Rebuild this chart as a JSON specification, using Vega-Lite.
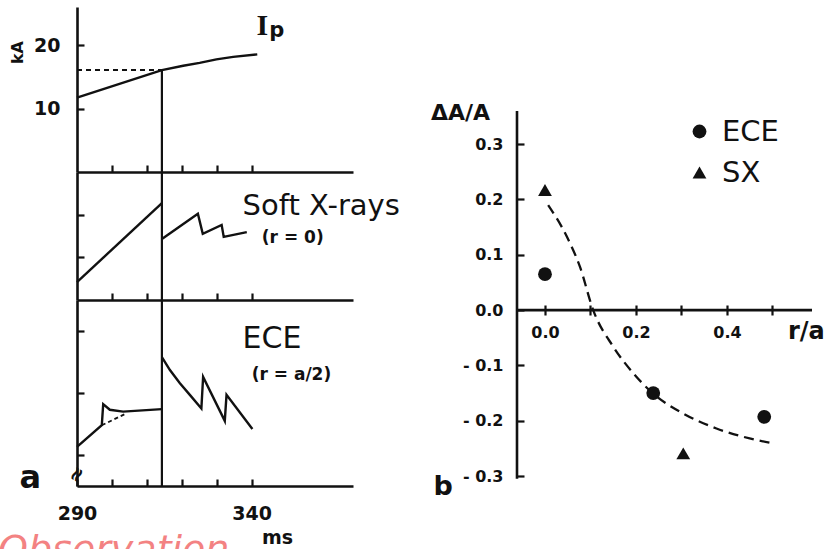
{
  "$schema": "https://vega.github.io/schema/vega-lite/v6.json",
  "autosize": "none",
  "padding": {"left": 77, "top": 7, "right": 750, "bottom": 542},
  "background": "white",
  "config": {
    "view": {"stroke": null},
    "font": "DejaVu Sans",
    "axis": {"grid": false, "domainColor": "#111", "tickColor": "#111", "labelColor": "#111", "titleColor": "#111", "domainWidth": 2.6, "tickWidth": 2.2, "labelFont": "DejaVu Sans", "labelFontWeight": "bold", "titleFont": "DejaVu Sans", "titleFontWeight": "bold"},
    "text": {"color": "#111"}
  },
  "datasets": {
    "ip": [
      {"t": 290, "v": 11.71},
      {"t": 314.3, "v": 16.06},
      {"t": 320.4, "v": 16.74},
      {"t": 325.1, "v": 17.2},
      {"t": 329.9, "v": 17.74},
      {"t": 334.7, "v": 18.14},
      {"t": 341.6, "v": 18.53}
    ],
    "sx": [
      {"seg": "pre", "t": 290, "v": 0.42},
      {"seg": "pre", "t": 314.3, "v": 2.27},
      {"seg": "post", "t": 314.3, "v": 1.43},
      {"seg": "post", "t": 324.6, "v": 2.02},
      {"seg": "post", "t": 326.0, "v": 1.55},
      {"seg": "post", "t": 331.4, "v": 1.76},
      {"seg": "post", "t": 332.0, "v": 1.48},
      {"seg": "post", "t": 338.6, "v": 1.59}
    ],
    "ece": [
      {"seg": "pre", "t": 290, "v": 0.13},
      {"seg": "pre", "t": 297.1, "v": 0.48},
      {"seg": "pre", "t": 297.5, "v": 0.82},
      {"seg": "pre", "t": 299.4, "v": 0.73},
      {"seg": "pre", "t": 303.2, "v": 0.7},
      {"seg": "pre", "t": 314.3, "v": 0.74},
      {"seg": "dash", "t": 297.1, "v": 0.48},
      {"seg": "dash", "t": 303.7, "v": 0.66},
      {"seg": "post", "t": 314.3, "v": 1.58},
      {"seg": "post", "t": 316.6, "v": 1.37},
      {"seg": "post", "t": 319.4, "v": 1.16},
      {"seg": "post", "t": 322.3, "v": 0.97},
      {"seg": "post", "t": 325.6, "v": 0.75},
      {"seg": "post", "t": 326.1, "v": 1.26},
      {"seg": "post", "t": 332.3, "v": 0.55},
      {"seg": "post", "t": 332.8, "v": 0.97},
      {"seg": "post", "t": 340.2, "v": 0.42}
    ],
    "fit": [
      {"r": 0.007, "v": 0.19},
      {"r": 0.048, "v": 0.133},
      {"r": 0.077, "v": 0.078},
      {"r": 0.106, "v": 0.0},
      {"r": 0.15, "v": -0.066},
      {"r": 0.194, "v": -0.114},
      {"r": 0.238, "v": -0.151},
      {"r": 0.304, "v": -0.187},
      {"r": 0.377, "v": -0.214},
      {"r": 0.45, "v": -0.232},
      {"r": 0.502, "v": -0.241}
    ],
    "pts": [
      {"series": "ECE", "r": 0.0, "v": 0.065},
      {"series": "ECE", "r": 0.238, "v": -0.15},
      {"series": "ECE", "r": 0.482, "v": -0.193},
      {"series": "SX", "r": 0.0, "v": 0.217},
      {"series": "SX", "r": 0.304, "v": -0.259}
    ]
  },
  "bounds": "flush",
  "spacing": 440,
  "hconcat": [
    {
      "bounds": "flush",
      "spacing": 0,
      "vconcat": [
        {
          "width": 276,
          "height": 165,
          "layer": [
            {
              "data": {"name": "ip"},
              "mark": {"type": "line", "color": "#111", "strokeWidth": 2.4},
              "encoding": {
                "x": {"field": "t", "type": "quantitative", "scale": {"domain": [290, 369], "nice": false, "zero": false},
                  "axis": {"values": [300, 310, 320, 330, 340], "labels": false, "title": null, "tickSize": -7}},
                "y": {"field": "v", "type": "quantitative", "scale": {"domain": [0, 26], "nice": false, "zero": false},
                  "axis": {"values": [10, 20], "tickSize": -7, "labelPadding": 24, "labelFontSize": 19, "title": "kA", "titleAngle": -90, "titleX": -60, "titleY": 45, "titleFontSize": 16, "titleAlign": "center", "titleBaseline": "middle"}}
              }
            },
            {
              "data": {"values": [{}]},
              "mark": {"type": "rule", "color": "#111", "strokeWidth": 2, "strokeDash": [5, 4]},
              "encoding": {"x": {"datum": 290}, "x2": {"datum": 314.3}, "y": {"datum": 16.06}}
            },
            {
              "data": {"values": [{}]},
              "mark": {"type": "rule", "color": "#111", "strokeWidth": 2.2},
              "encoding": {"x": {"datum": 314.3}, "y": {"datum": 16.06}, "y2": {"datum": 0}}
            },
            {
              "data": {"values": [{}]},
              "mark": {"type": "text", "font": "Liberation Serif", "fontWeight": "bold", "fontSize": 30, "align": "left", "baseline": "alphabetic"},
              "encoding": {"x": {"datum": 341.4}, "y": {"datum": 21.6}, "text": {"value": "I"}}
            },
            {
              "data": {"values": [{}]},
              "mark": {"type": "text", "fontWeight": "bold", "fontSize": 21, "align": "left", "baseline": "alphabetic"},
              "encoding": {"x": {"datum": 345.0}, "y": {"datum": 21.2}, "text": {"value": "p"}}
            }
          ]
        },
        {
          "width": 276,
          "height": 128,
          "layer": [
            {
              "data": {"name": "sx"},
              "mark": {"type": "line", "color": "#111", "strokeWidth": 2.4},
              "encoding": {
                "x": {"field": "t", "type": "quantitative", "scale": {"domain": [290, 369], "nice": false, "zero": false},
                  "axis": {"values": [300, 310, 320, 330, 340], "labels": false, "title": null, "tickSize": -7}},
                "y": {"field": "v", "type": "quantitative", "scale": {"domain": [0, 3], "nice": false, "zero": false},
                  "axis": {"values": [1, 2], "labels": false, "title": null, "tickSize": -7}},
                "detail": {"field": "seg"}
              }
            },
            {
              "data": {"values": [{}]},
              "mark": {"type": "rule", "color": "#111", "strokeWidth": 2.2},
              "encoding": {"x": {"datum": 314.3}, "y": {"datum": 0}, "y2": {"datum": 3}}
            },
            {
              "data": {"values": [{}]},
              "mark": {"type": "text", "fontSize": 29, "align": "left", "baseline": "alphabetic"},
              "encoding": {"x": {"datum": 337.4}, "y": {"datum": 1.99}, "text": {"value": "Soft X-rays"}}
            },
            {
              "data": {"values": [{}]},
              "mark": {"type": "text", "fontSize": 17, "fontWeight": "bold", "align": "left", "baseline": "middle"},
              "encoding": {"x": {"datum": 342.9}, "y": {"datum": 1.45}, "text": {"value": "(r = 0)"}}
            }
          ]
        },
        {
          "width": 276,
          "height": 186,
          "layer": [
            {
              "data": {"name": "ece"},
              "transform": [{"filter": "datum.seg != 'dash'"}],
              "mark": {"type": "line", "color": "#111", "strokeWidth": 2.4},
              "encoding": {
                "x": {"field": "t", "type": "quantitative", "scale": {"domain": [290, 369], "nice": false, "zero": false},
                  "axis": {"values": [290, 300, 310, 320, 330, 340], "labelExpr": "datum.value == 290 || datum.value == 340 ? datum.label : ''", "labelPadding": 25, "labelFontSize": 19, "labelFlush": false, "tickSize": -7, "title": "ms", "titleX": 200, "titleY": 51, "titleFontSize": 19, "titleAlign": "center", "titleBaseline": "middle"}},
                "y": {"field": "v", "type": "quantitative", "scale": {"domain": [-0.5, 2.5], "nice": false, "zero": false},
                  "axis": {"values": [0, 1, 2], "labels": false, "title": null, "tickSize": -7}},
                "detail": {"field": "seg"}
              }
            },
            {
              "data": {"name": "ece"},
              "transform": [{"filter": "datum.seg == 'dash'"}],
              "mark": {"type": "line", "color": "#111", "strokeWidth": 1.8, "strokeDash": [4, 3]},
              "encoding": {
                "x": {"field": "t", "type": "quantitative"},
                "y": {"field": "v", "type": "quantitative"}
              }
            },
            {
              "data": {"values": [{}]},
              "mark": {"type": "rule", "color": "#111", "strokeWidth": 2.2},
              "encoding": {"x": {"datum": 314.3}, "y": {"datum": -0.5}, "y2": {"datum": 2.5}}
            },
            {
              "data": {"values": [{}]},
              "mark": {"type": "text", "fontSize": 30, "align": "left", "baseline": "alphabetic"},
              "encoding": {"x": {"datum": 337.4}, "y": {"datum": 1.726}, "text": {"value": "ECE"}}
            },
            {
              "data": {"values": [{}]},
              "mark": {"type": "text", "fontSize": 17, "fontWeight": "bold", "align": "left", "baseline": "middle"},
              "encoding": {"x": {"datum": 340}, "y": {"datum": 1.29}, "text": {"value": "(r = a/2)"}}
            },
            {
              "data": {"values": [{}]},
              "mark": {"type": "text", "fontSize": 32, "fontWeight": "bold", "align": "center", "baseline": "alphabetic"},
              "encoding": {"x": {"datum": 276.6}, "y": {"datum": -0.53}, "text": {"value": "a"}}
            },
            {
              "data": {"values": [{}]},
              "mark": {"type": "text", "fontSize": 20, "fontWeight": "bold", "align": "center", "baseline": "middle", "angle": 300},
              "encoding": {"x": {"datum": 290}, "y": {"datum": -0.32}, "text": {"value": "≈"}}
            },
            {
              "data": {"values": [{}]},
              "mark": {"type": "text", "fontSize": 38, "fontStyle": "italic", "color": "#f26d6d", "opacity": 0.85, "align": "left", "baseline": "alphabetic"},
              "encoding": {"x": {"datum": 267.4}, "y": {"datum": -1.726}, "text": {"value": "Observation"}}
            }
          ]
        }
      ]
    },
    {
      "width": 295,
      "height": 479,
      "layer": [
        {
          "data": {"name": "fit"},
          "mark": {"type": "line", "color": "#111", "strokeWidth": 2.3, "strokeDash": [10, 6], "interpolate": "monotone"},
          "encoding": {
            "x": {"field": "r", "type": "quantitative", "scale": {"domain": [-0.0615, 0.587], "nice": false, "zero": false},
              "axis": {"values": [0, 0.1, 0.2, 0.3, 0.4, 0.5], "offset": -171, "domain": false, "tickSize": -10, "labelPadding": 19, "labelFontSize": 16,
                "labelExpr": "(abs(datum.value) < 1e-6 || abs(datum.value - 0.2) < 1e-6 || abs(datum.value - 0.4) < 1e-6) ? format(datum.value, '.1f') : ''", "labelFlush": false, "title": null}},
            "y": {"field": "v", "type": "quantitative", "scale": {"domain": [-0.318, 0.548], "nice": false, "zero": false},
              "axis": {"values": [-0.3, -0.2, -0.1, 0, 0.1, 0.2, 0.3], "domain": false, "tickSize": -7, "labelPadding": 21, "labelFontSize": 16,
                "labelExpr": "datum.value < -0.001 ? '- ' + format(abs(datum.value), '.1f') : format(abs(datum.value), '.1f')",
                "title": "ΔA/A", "titleAngle": 0, "titleX": -57, "titleY": 105, "titleAlign": "center", "titleBaseline": "middle", "titleFontSize": 22}}
          }
        },
        {
          "data": {"name": "pts"},
          "mark": {"type": "point", "filled": true, "opacity": 1, "color": "#111", "size": 190},
          "encoding": {
            "x": {"field": "r", "type": "quantitative"},
            "y": {"field": "v", "type": "quantitative"},
            "shape": {"field": "series", "type": "nominal", "scale": {"domain": ["ECE", "SX"], "range": ["circle", "triangle-up"]},
              "legend": {"orient": "none", "legendX": 608, "legendY": 110, "title": null, "labelFontSize": 29, "labelFont": "DejaVu Sans", "labelColor": "#111", "labelOffset": 8, "symbolSize": 190, "symbolFillColor": "#111", "symbolStrokeColor": "#111", "symbolOpacity": 1, "rowPadding": 11}}
          }
        },
        {
          "data": {"values": [{}]},
          "mark": {"type": "rule", "color": "#111", "strokeWidth": 2.6},
          "encoding": {"x": {"datum": -0.0615}, "y": {"datum": -0.305}, "y2": {"datum": 0.36}}
        },
        {
          "data": {"values": [{}]},
          "mark": {"type": "rule", "color": "#111", "strokeWidth": 2.6},
          "encoding": {"x": {"datum": -0.0615}, "x2": {"datum": 0.587}, "y": {"datum": 0}}
        },
        {
          "data": {"values": [{}]},
          "mark": {"type": "text", "fontSize": 24, "fontWeight": "bold", "align": "left", "baseline": "middle"},
          "encoding": {"x": {"datum": 0.534}, "y": {"datum": -0.04}, "text": {"value": "r/a"}}
        },
        {
          "data": {"values": [{}]},
          "mark": {"type": "text", "fontSize": 27, "fontWeight": "bold", "align": "center", "baseline": "alphabetic"},
          "encoding": {"x": {"datum": -0.224}, "y": {"datum": -0.335}, "text": {"value": "b"}}
        }
      ]
    }
  ]
}
